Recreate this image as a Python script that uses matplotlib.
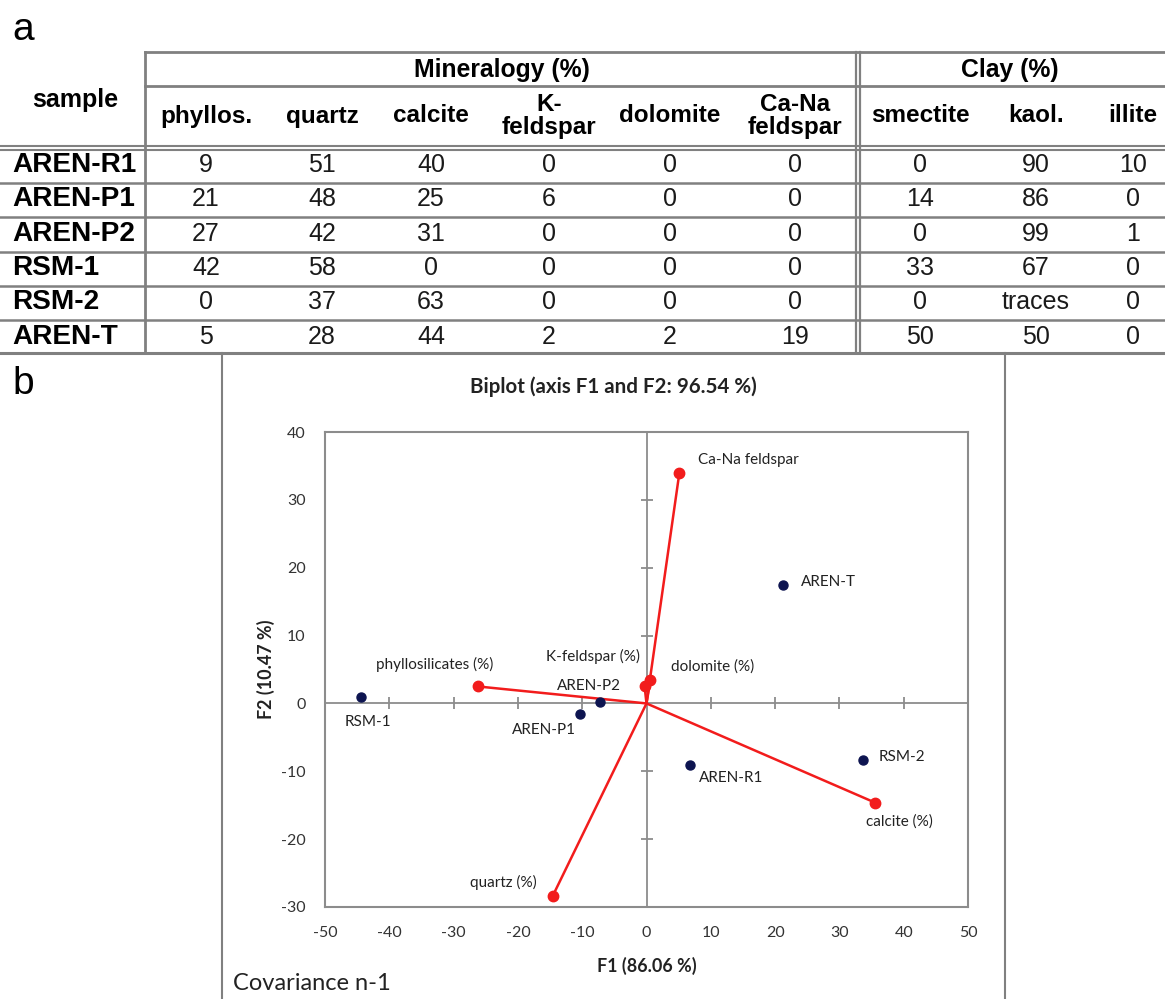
import matplotlib
matplotlib.use("Agg")
import matplotlib.pyplot as plt

plt.rcParams["axes.unicode_minus"] = False

# Table (a): mineralogy and clay fractions per sample
samples = ["AREN-R1", "AREN-P1", "AREN-P2", "RSM-1", "RSM-2", "AREN-T"]
mineral_cols = ["phyllos.", "quartz", "calcite", "K-\nfeldspar", "dolomite", "Ca-Na\nfeldspar"]
clay_cols = ["smectite", "kaol.", "illite"]
mineralogy = [
    [9, 51, 40, 0, 0, 0],
    [21, 48, 25, 6, 0, 0],
    [27, 42, 31, 0, 0, 0],
    [42, 58, 0, 0, 0, 0],
    [0, 37, 63, 0, 0, 0],
    [5, 28, 44, 2, 2, 19],
]
clay = [
    ["0", "90", "10"],
    ["14", "86", "0"],
    ["0", "99", "1"],
    ["33", "67", "0"],
    ["0", "traces", "0"],
    ["50", "50", "0"],
]

# Biplot (b): sample scores and variable loadings on F1/F2
score_names = ["RSM-1", "AREN-P1", "AREN-P2", "AREN-R1", "RSM-2", "AREN-T"]
score_f1 = [-44.4, -10.4, -7.3, 6.7, 33.6, 21.3]
score_f2 = [1.0, -1.6, 0.2, -9.1, -8.4, 17.4]

var_names = ["Ca-Na feldspar", "phyllosilicates (%)", "K-feldspar (%)", "dolomite (%)",
             "calcite (%)", "quartz (%)"]
var_f1 = [5.1, -26.2, -0.3, 0.6, 35.5, -14.6]
var_f2 = [33.9, 2.5, 2.5, 3.4, -14.6, -28.4]

W, H = 1165, 999
fig = plt.figure(figsize=(W / 100, H / 100), dpi=100)

# overlay in pixel units for the table and panel frame
bg = fig.add_axes([0, 0, 1, 1])
bg.set_xlim(0, W)
bg.set_ylim(H, 0)
bg.axis("off")

tab_font = "Liberation Sans"
grey = "#808080"

bg.text(12, 30, "a", fontsize=28, family=tab_font, va="center", ha="left")
bg.text(12, 384, "b", fontsize=28, family=tab_font, va="center", ha="left")

# table rules
bg.plot([145, W], [52, 52], color=grey, lw=2)
bg.plot([145, W], [86, 86], color=grey, lw=2)
bg.plot([0, W], [146, 146], color=grey, lw=1.5)
bg.plot([0, W], [149.5, 149.5], color=grey, lw=1.5)
row_lines = [183, 217, 252, 286, 320]
for yl in row_lines:
    bg.plot([0, W], [yl, yl], color=grey, lw=1.8)
bg.plot([0, W], [353, 353], color=grey, lw=2.2)
bg.plot([145, 145], [52, 353], color=grey, lw=2)
bg.plot([856, 856], [52, 353], color=grey, lw=1.6)
bg.plot([860, 860], [52, 353], color=grey, lw=1.6)

# panel b frame
bg.plot([222, 222], [353, H], color=grey, lw=1.5)
bg.plot([1005, 1005], [353, H], color=grey, lw=1.5)

# table headers
bg.text(502, 70, "Mineralogy (%)", fontsize=17.8, fontweight="bold", family=tab_font,
        ha="center", va="center")
bg.text(1010, 70, "Clay (%)", fontsize=17.8, fontweight="bold", family=tab_font,
        ha="center", va="center")
bg.text(75, 100, "sample", fontsize=18, fontweight="bold", family=tab_font,
        ha="center", va="center")

mineral_x = [206, 322, 431, 549, 670, 795]
clay_x = [920, 1036, 1133]
for cx, name in zip(mineral_x + clay_x, mineral_cols + clay_cols):
    bg.text(cx, 116, name, fontsize=17.5, fontweight="bold", family=tab_font,
            ha="center", va="center", linespacing=1.05)

row_y = [165, 199, 234, 268, 302, 337]
for ry, name, mrow, crow in zip(row_y, samples, mineralogy, clay):
    bg.text(12, ry, name, fontsize=20.2, fontweight="bold", family=tab_font,
            ha="left", va="center")
    for cx, v in zip(mineral_x, mrow):
        bg.text(cx, ry, str(v), fontsize=18, family=tab_font, ha="center", va="center",
                color="#1a1a1a")
    for cx, v in zip(clay_x, crow):
        bg.text(cx, ry, v, fontsize=18, family=tab_font, ha="center", va="center",
                color="#1a1a1a")

# biplot axes
pfont = "Lato"
ax = fig.add_axes([325 / W, 1 - 907 / H, (968 - 325) / W, (907 - 432) / H])
ax.set_xlim(-50, 50)
ax.set_ylim(-30, 40)
for sp in ax.spines.values():
    sp.set_color("#8c8c8c")
    sp.set_linewidth(1.5)
ax.set_xticks(range(-50, 51, 10))
ax.set_yticks(range(-30, 41, 10))
ax.tick_params(length=0, labelsize=11.5, pad=14)
for lab in ax.get_xticklabels() + ax.get_yticklabels():
    lab.set_family(pfont)
    lab.set_color("#333333")

ax.axhline(0, color="#8c8c8c", lw=1.3, zorder=1)
ax.axvline(0, color="#8c8c8c", lw=1.3, zorder=1)
xt = [t for t in range(-40, 41, 10) if t != 0]
yt = [t for t in range(-20, 31, 10) if t != 0]
ax.plot(xt, [0] * len(xt), ls="none", marker="|", ms=8, mew=1.3, color="#8c8c8c", zorder=1)
ax.plot([0] * len(yt), yt, ls="none", marker="_", ms=8, mew=1.3, color="#8c8c8c", zorder=1)

red = "#f21c1c"
for x, y in zip(var_f1, var_f2):
    ax.plot([0, x], [0, y], color=red, lw=1.8, zorder=3)
ax.plot(var_f1, var_f2, ls="none", marker="o", ms=7.5, color=red, zorder=4)
ax.plot(score_f1, score_f2, ls="none", marker="o", ms=6.5, color="#0d1450", zorder=5)

score_off = {
    "RSM-1": (7, -25, "center"),
    "AREN-P1": (-36, -16, "center"),
    "AREN-P2": (-11, 16, "center"),
    "AREN-R1": (9, -13, "left"),
    "RSM-2": (16, 3, "left"),
    "AREN-T": (17, 3, "left"),
}
var_off = {
    "Ca-Na feldspar": (19, 13, "left"),
    "phyllosilicates (%)": (-102, 22, "left"),
    "K-feldspar (%)": (-5, 30, "right"),
    "dolomite (%)": (21, 14, "left"),
    "calcite (%)": (-9, -19, "left"),
    "quartz (%)": (-16, 14, "right"),
}
for names, xs, ys, offs in [(score_names, score_f1, score_f2, score_off),
                            (var_names, var_f1, var_f2, var_off)]:
    for n, x, y in zip(names, xs, ys):
        dx, dy, ha = offs[n]
        ax.annotate(n, (x, y), xytext=(dx, dy), textcoords="offset pixels",
                    ha=ha, va="center", fontsize=11, family=pfont, color="#222222")

# title sits centred on the panel frame, not the plot area
bg.text(613, 387, "Biplot (axis F1 and F2: 96.54 %)", fontsize=14.8, fontweight="bold",
        family=pfont, ha="center", va="center", color="#222222")
ax.set_xlabel("F1 (86.06 %)", fontsize=12.9, fontweight="bold", family=pfont,
              labelpad=12, color="#222222")
ax.set_ylabel("F2 (10.47 %)", fontsize=12.9, fontweight="bold", family=pfont,
              labelpad=4, color="#222222")

bg.text(233, 984, "Covariance n-1", fontsize=17, family=pfont, ha="left", va="center",
        color="#222222")

fig.savefig("out.png", dpi=100)
